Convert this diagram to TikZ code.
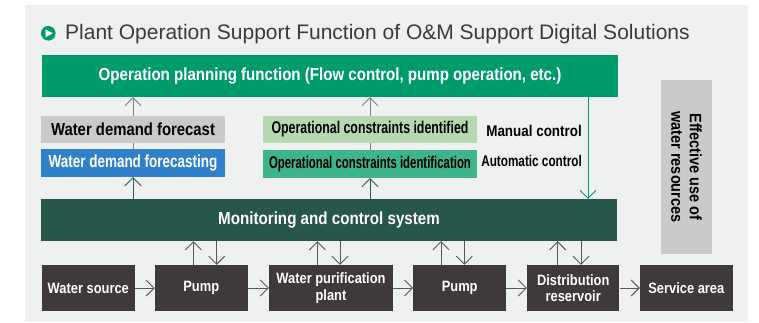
\documentclass[tikz,border=0pt]{standalone}
\usepackage{fontspec}
\setmainfont{Liberation Sans}
\newcommand\cf[3]{\fontspec[FakeStretch=#1]{Liberation Sans}\bfseries\fontsize{#2}{#3}\selectfont}
\usetikzlibrary{arrows.meta}
\definecolor{bgc}{HTML}{EFF0F0}
\definecolor{cgreen}{HTML}{009B6B}
\definecolor{lgray}{HTML}{C9CACA}
\definecolor{cblue}{HTML}{2F82C9}
\definecolor{lgreen}{HTML}{B5D8B0}
\definecolor{teal}{HTML}{3DB48A}
\definecolor{mong}{HTML}{27574A}
\definecolor{darkbox}{HTML}{3E3A39}
\definecolor{titlec}{HTML}{3E3A39}
\definecolor{arrgray}{HTML}{7F7F7F}
\definecolor{arrdark}{HTML}{595757}
\definecolor{arrgreen}{HTML}{2E5E4F}
\tikzset{
  box/.style={inner sep=0pt, align=center},
  arr/.style={-{Straight Barb[length=8pt,width=16pt]}, line width=0.9pt},
  plainline/.style={line width=0.9pt},
  lbl/.style={inner sep=0pt, text=black}
}
\begin{document}
\begin{tikzpicture}[x=1pt,y=-1pt]
\useasboundingbox (0,0) rectangle (759,322);
\fill[bgc] (25,5) rectangle (748,322);
% title
\fill[cgreen] (48.3,33.3) circle (7.3pt);
\fill[white] (45.6,29.4) -- (52.8,33.3) -- (45.6,37.2) -- cycle;
\node[anchor=base west, inner sep=0pt, text=titlec, font=\fontsize{21}{24}\selectfont] (title) at (65,39.5) {Plant Operation Support Function of O\&M Support Digital Solutions};
% top box
\node[box, fill=cgreen, text=white, minimum width=576pt, minimum height=42pt, font=\cf{0.862}{17.5}{19}] (plan) at (330,76) {Operation planning function (Flow control, pump operation, etc.)};
% left column
\node[box, fill=lgray, text=black, minimum width=184pt, minimum height=27pt, font=\cf{0.85}{17.5}{19}] (wdf) at (133,129.5) {Water demand forecast};
\node[box, fill=cblue, text=white, minimum width=184pt, minimum height=28pt, font=\cf{0.77}{17.5}{19}] (wdfg) at (133,163) {Water demand forecasting};
% middle column
\node[box, fill=lgreen, text=black, minimum width=214pt, minimum height=27pt, font=\cf{0.726}{17}{19}] (ocd) at (370,129.5) {Operational constraints identified};
\node[box, fill=teal, text=black, minimum width=214pt, minimum height=28pt, font=\cf{0.67}{17}{19}] (ocn) at (370,164) {Operational constraints identification};
\node[lbl, anchor=east, font=\cf{0.866}{15.5}{17}] (man) at (582,130.5) {Manual control};
\node[lbl, anchor=east, font=\cf{0.758}{15.5}{17}] (auto) at (582,161) {Automatic control};
% vertical box
\node[box, fill=lgray, text=black, minimum width=174pt, minimum height=51pt, rotate=-90, font=\cf{0.88}{16.5}{18.5}] (eff) at (686.5,167) {Effective use of\\water resources};
% monitoring
\node[box, fill=mong, text=white, minimum width=576pt, minimum height=42pt, font=\cf{0.867}{17.5}{19}] (mon) at (329,220) {Monitoring and control system};
% bottom row
\tikzset{bbox/.style={box, fill=darkbox, text=white, minimum height=46pt, font=\cf{0.86}{15}{16.5}}}
\node[bbox, minimum width=93.5pt] (src) at (88.3,288) {Water source};
\node[bbox, minimum width=92.7pt] (p1) at (201.3,288) {Pump};
\node[bbox, minimum width=124pt] (wpp) at (331,288) {Water purification\\plant};
\node[bbox, minimum width=92.7pt] (p2) at (459.7,288) {Pump};
\node[bbox, minimum width=92.3pt] (dist) at (573.2,288) {Distribution\\reservoir};
\node[bbox, minimum width=92.7pt] (svc) at (686.3,288) {Service area};
% horizontal arrows
\foreach \a/\b in {src/p1, p1/wpp, wpp/p2, p2/dist, dist/svc}
  \draw[arr, arrdark] (\a.east) -- (\b.west);
% vertical pairs
\foreach \n/\u/\d in {p1/-8/15.4, wpp/-13.7/9, p2/-18.7/4.6, dist/-15.5/7.8}{
  \draw[arr, arrdark] ([xshift=\u pt]\n.north) -- ([xshift=\u pt]\n.north |- mon.south);
  \draw[arr, arrdark] ([xshift=\d pt]\n.north |- mon.south) -- ([xshift=\d pt]\n.north);
}
% upper arrows
\draw[arr, arrgray] (wdf.north) -- (wdf.north |- plan.south);
\draw[plainline, arrgray] (wdfg.north) -- (wdf.south);
\draw[arr, arrgreen] (wdfg.south |- mon.north) -- (wdfg.south);
\draw[arr, arrgray] (ocd.north) -- (ocd.north |- plan.south);
\draw[plainline, arrgray] (ocn.north) -- (ocd.south);
\draw[arr, arrgreen] (ocn.south |- mon.north) -- (ocn.south);
\draw[arr, cgreen] ([xshift=258pt]plan.south) -- ([xshift=258pt]plan.south |- mon.north);
\end{tikzpicture}
\end{document}
